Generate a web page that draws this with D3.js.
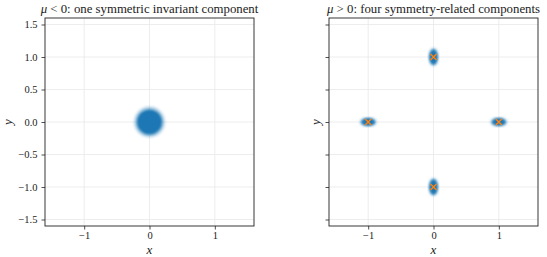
<!DOCTYPE html>
<html>
<head>
<meta charset="utf-8">
<script src="https://cdn.jsdelivr.net/npm/d3@7"></script>
<style>
  body { margin: 0; background: #fff; }
  text { font-family: "Liberation Serif", "DejaVu Serif", serif; fill: #222; }
</style>
</head>
<body>
<svg id="chart" width="547" height="257"></svg>
<script>
var blue = "#1f77b4", orange = "#ff7f0e";

// panel titles (the italic mu goes in front)
var titles = [": one symmetric invariant component", ": four symmetry-related components"];
var titleSigns = [" < 0", " > 0"];

var xTicks = [-1, 0, 1];
var yTicks = [-1.5, -1.0, -0.5, 0.0, 0.5, 1.0, 1.5];
var domain = [-1.6, 1.6];

// clusters: centre x, centre y, half-width, half-height
var leftCx = [0.0];
var leftCy = [0.0];
var leftSx = [0.2];
var leftSy = [0.2];

var rightCx = [-1.0, 1.0, 0.0, 0.0];
var rightCy = [0.0, 0.0, 1.0, -1.0];
var rightSx = [0.11, 0.11, 0.065, 0.065];
var rightSy = [0.06, 0.06, 0.12, 0.12];

var svg = d3.select("#chart");

var defs = svg.append("defs");
defs.append("filter").attr("id", "soft")
  .append("feGaussianBlur").attr("stdDeviation", 0.8);
defs.append("filter").attr("id", "softer")
  .append("feGaussianBlur").attr("stdDeviation", 1.6);

var panels = [
  {left: 45, cx: leftCx, cy: leftCy, sx: leftSx, sy: leftSy, labels: true, marks: false},
  {left: 329, cx: rightCx, cy: rightCy, sx: rightSx, sy: rightSy, labels: false, marks: true}
];

panels.forEach(function(p, k) {
  var w = 209, top = 18, h = 208;
  var x = d3.scaleLinear().domain(domain).range([p.left, p.left + w]);
  var y = d3.scaleLinear().domain(domain).range([top + h, top]);
  var g = svg.append("g");

  // grid
  g.selectAll(".gx").data(xTicks).enter().append("line")
    .attr("x1", function(d) { return x(d); }).attr("x2", function(d) { return x(d); })
    .attr("y1", top).attr("y2", top + h)
    .attr("stroke", "#e8e8e8").attr("stroke-width", 0.8);
  g.selectAll(".gy").data(yTicks).enter().append("line")
    .attr("y1", function(d) { return y(d); }).attr("y2", function(d) { return y(d); })
    .attr("x1", p.left).attr("x2", p.left + w)
    .attr("stroke", "#e8e8e8").attr("stroke-width", 0.8);

  // clusters
  var idx = d3.range(p.cx.length);
  g.selectAll(".halo").data(idx).enter().append("ellipse")
    .attr("cx", function(i) { return x(p.cx[i]); })
    .attr("cy", function(i) { return y(p.cy[i]); })
    .attr("rx", function(i) { return x(p.cx[i] + p.sx[i] * 1.15) - x(p.cx[i]); })
    .attr("ry", function(i) { return y(p.cy[i]) - y(p.cy[i] + p.sy[i] * 1.15); })
    .attr("fill", blue).attr("opacity", 0.45).attr("filter", "url(#softer)");
  g.selectAll(".core").data(idx).enter().append("ellipse")
    .attr("cx", function(i) { return x(p.cx[i]); })
    .attr("cy", function(i) { return y(p.cy[i]); })
    .attr("rx", function(i) { return x(p.cx[i] + p.sx[i] * 0.95) - x(p.cx[i]); })
    .attr("ry", function(i) { return y(p.cy[i]) - y(p.cy[i] + p.sy[i] * 0.95); })
    .attr("fill", blue).attr("filter", "url(#soft)");

  if (p.marks) {
    var s = 3;
    idx.forEach(function(i) {
      var px = x(p.cx[i]), py = y(p.cy[i]);
      g.append("path")
        .attr("d", "M" + (px - s) + "," + (py - s) + "L" + (px + s) + "," + (py + s) +
                   "M" + (px - s) + "," + (py + s) + "L" + (px + s) + "," + (py - s))
        .attr("stroke", orange).attr("stroke-width", 1.5);
    });
  }

  // axes
  var ax = g.append("g").attr("transform", "translate(0," + (top + h) + ")")
    .call(d3.axisBottom(x).tickValues(xTicks).tickSize(3.5).tickPadding(2)
      .tickFormat(function(d) { return d < 0 ? "\u2212" + Math.abs(d) : d; }));
  var ay = g.append("g").attr("transform", "translate(" + p.left + ",0)")
    .call(d3.axisLeft(y).tickValues(yTicks).tickSize(3.5).tickPadding(4)
      .tickFormat(function(d) {
        if (!p.labels) return "";
        var t = d3.format(".1f")(Math.abs(d));
        return d < 0 ? "\u2212" + t : t;
      }));
  [ax, ay].forEach(function(a) {
    a.select(".domain").remove();
    a.attr("font-family", null);
    a.selectAll("line").attr("stroke", "#222").attr("stroke-width", 0.8);
    a.selectAll("text").attr("font-size", 10.5).attr("fill", "#333");
  });

  g.append("rect").attr("x", p.left).attr("y", top).attr("width", w).attr("height", h)
    .attr("fill", "none").attr("stroke", "#222").attr("stroke-width", 0.9);

  // labels
  g.append("text").attr("x", x(0)).attr("y", 254).attr("text-anchor", "middle")
    .attr("font-size", 13).attr("font-style", "italic").text("x");
  g.append("text").attr("transform", "translate(" + (p.left - (p.labels ? 33 : 9)) + "," + y(0) + ") rotate(-90)")
    .attr("text-anchor", "middle").attr("font-size", 13).attr("font-style", "italic").text("y");

  var t = g.append("text").attr("x", x(0)).attr("y", 13).attr("text-anchor", "middle")
    .attr("font-size", 12.8);
  t.append("tspan").attr("font-style", "italic").text("\u03bc");
  t.append("tspan").text(titleSigns[k] + titles[k]);
});
</script>
</body>
</html>
